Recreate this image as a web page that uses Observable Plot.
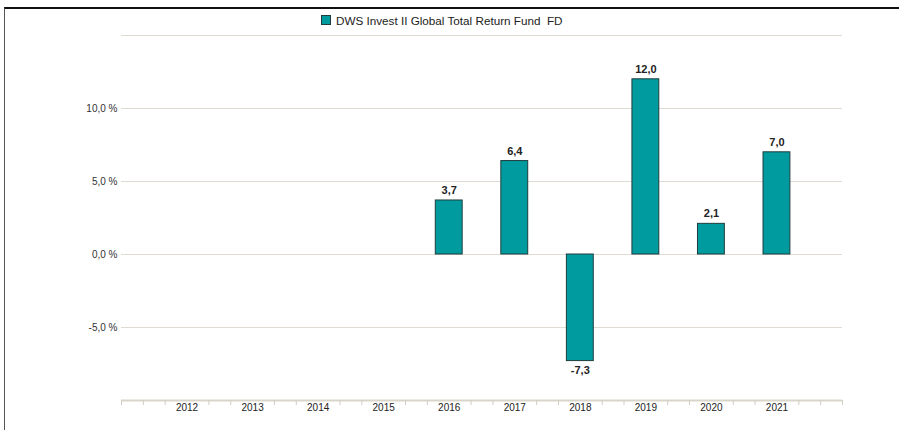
<!DOCTYPE html>
<html>
<head>
<meta charset="utf-8">
<script src="https://cdn.jsdelivr.net/npm/d3@7"></script>
<script src="https://cdn.jsdelivr.net/npm/@observablehq/plot@0.6"></script>
<style>
  body { margin: 0; background: #fff; font-family: "Liberation Sans", Arial, sans-serif; }
  #wrap { position: relative; width: 899px; height: 430px; overflow: hidden; background: #fff; }
  #frame { position: absolute; left: 4px; top: 7px; right: 0; bottom: 0; border-top: 2px solid #111; border-left: 1.5px solid #555; }
  #legend { position: absolute; left: 321px; top: 12px; height: 16px; display: flex; align-items: center; font-size: 11.7px; color: #222; white-space: pre; }
  #legend .sw { width: 8px; height: 8px; background: #009b9f; border: 1px solid #1e3d3d; margin-right: 5px; }
  #chart { position: absolute; left: 0; top: 29px; }
</style>
</head>
<body>
<div id="wrap">
  <div id="frame"></div>
  <div id="legend"><span class="sw"></span><span id="legendText"></span></div>
  <div id="chart"></div>
</div>
<script>
const seriesName = "DWS Invest II Global Total Return Fund  FD";
const years = [2016, 2017, 2018, 2019, 2020, 2021];
const values = [3.7, 6.4, -7.3, 12.0, 2.1, 7.0];
const yearLabels = [2012, 2013, 2014, 2015, 2016, 2017, 2018, 2019, 2020, 2021];
const yTickValues = [10, 5, 0, -5];
const gridValues = [15, 10, 5, 0, -5];
const xDomain = [2011, 2022];
const yDomain = [-10, 15];

document.getElementById("legendText").textContent = seriesName;

const data = years.map((year, i) => ({year, value: values[i]}));
const minorTicks = d3.range(0, 34).map(k => xDomain[0] + k / 3)
  .filter(t => !yearLabels.some(y => Math.abs(y - t) < 1e-6));
const fmtPct = d => d.toFixed(1).replace(".", ",") + " %";
const fmtNum = d => d.toFixed(1).replace(".", ",");
const halfWidth = 0.205;

const chart = Plot.plot({
  width: 899,
  height: 401,
  marginLeft: 121,
  marginRight: 57,
  marginTop: 6,
  marginBottom: 30,
  style: {fontFamily: "'Liberation Sans', Arial, sans-serif", fontSize: "10px", color: "#333", background: "transparent"},
  x: {domain: xDomain, label: null},
  y: {domain: yDomain, label: null},
  marks: [
    Plot.ruleY(gridValues, {stroke: "#dfdbd2", strokeWidth: 1}),
    Plot.rectY(data, {
      x1: d => d.year - halfWidth,
      x2: d => d.year + halfWidth,
      y1: 0,
      y2: "value",
      fill: "#009b9f",
      stroke: "#1e3d3d",
      strokeWidth: 1
    }),
    Plot.ruleY([yDomain[0]], {stroke: "#d9d5c9", strokeWidth: 2}),
    Plot.axisX(minorTicks, {tickSize: 5, stroke: "#d2cec2", tickFormat: () => ""}),
    Plot.axisX(yearLabels, {tickSize: 0, tickPadding: 3, tickFormat: d => String(d), fill: "#222", fontSize: 10}),
    Plot.axisY(yTickValues, {tickSize: 0, tickPadding: 4, tickFormat: fmtPct, fill: "#333", fontSize: 10}),
    Plot.text(data.filter(d => d.value >= 0), {
      x: "year", y: "value", text: d => fmtNum(d.value), dy: -10,
      fontWeight: "bold", fontSize: 11, fill: "#222"
    }),
    Plot.text(data.filter(d => d.value < 0), {
      x: "year", y: "value", text: d => fmtNum(d.value), dy: 9,
      fontWeight: "bold", fontSize: 11, fill: "#222"
    })
  ]
});
document.getElementById("chart").appendChild(chart);
</script>
</body>
</html>
